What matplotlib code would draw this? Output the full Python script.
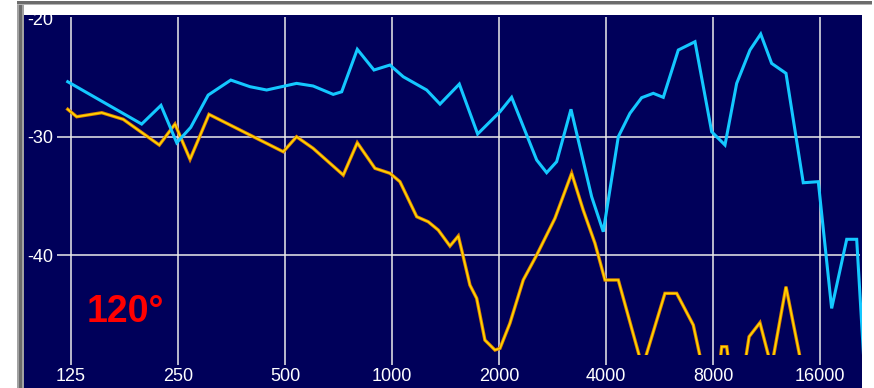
import matplotlib
matplotlib.use("Agg")
import matplotlib.pyplot as plt
from matplotlib.patches import Rectangle
from matplotlib.ticker import NullLocator

# ---- data -------------------------------------------------------------
x_ticks = [125, 250, 500, 1000, 2000, 4000, 8000, 16000]
x_tick_labels = ["125", "250", "500", "1000", "2000", "4000", "8000", "16000"]
y_ticks = [-20, -30, -40]
y_tick_labels = ["-20", "-30", "-40"]

cyan_freq = [122.4, 197.6, 223.9, 248, 271.5, 304, 352, 398.6, 444, 539,
             600, 683.5, 722, 798.8, 890, 987, 1076, 1252, 1365, 1547,
             1742, 2013, 2171, 2554, 2724, 2906, 3189, 3646, 3931, 4333,
             4673, 5041, 5435, 5799, 6391, 7121, 7934, 8648, 9329, 10169,
             10900, 11700, 12840, 14360, 15830, 17260, 19030, 20300, 21560]
cyan_db = [-25.35, -28.93, -27.35, -30.51, -29.21, -26.48, -25.21, -25.77, -26.05, -25.49,
           -25.71, -26.42, -26.20, -22.61, -24.36, -23.94, -24.93, -26.05, -27.24, -25.55,
           -29.77, -27.89, -26.67, -31.97, -33.04, -32.11, -27.68, -35.07, -38.03, -30.00,
           -28.02, -26.70, -26.33, -26.67, -22.67, -21.97, -29.58, -30.70, -25.49, -22.67,
           -21.32, -23.80, -24.64, -33.89, -33.80, -44.51, -38.67, -38.67, -52.00]

orange_freq = [122.4, 129.7, 152.6, 175.4, 221.5, 245.2, 270.3, 305.6, 494.5, 539,
               600, 729.5, 798.8, 895.7, 987, 1053, 1174, 1265, 1350, 1456,
               1537, 1587, 1657, 1731, 1826, 1949, 2013, 2147, 2341, 2554,
               2874, 3203, 3452, 3725, 3975, 4333, 5068, 5861, 6325, 7044,
               7595, 8105, 8467, 8745, 9290, 10112, 10846, 11690, 12840, 15490]
orange_db = [-27.68, -28.31, -27.97, -28.53, -30.70, -28.93, -31.91, -28.11, -31.27, -30.00,
             -30.98, -33.24, -30.51, -32.67, -33.09, -33.80, -36.76, -37.19, -37.89, -39.24,
             -38.39, -40.14, -42.54, -43.66, -47.19, -48.03, -47.89, -45.77, -42.11, -40.00,
             -36.90, -33.09, -36.20, -39.01, -42.11, -42.11, -49.50, -43.24, -43.24, -45.92,
             -50.50, -53.00, -47.75, -47.75, -54.00, -46.90, -45.72, -49.50, -42.68, -55.00]

angle_label = "120°"

# ---- style ------------------------------------------------------------
NAVY = "#00005a"
GRID = "#ececec"
CYAN = "#14c8ff"
ORANGE_EDGE = "#e08400"
ORANGE_CORE = "#ffd800"
FLOOR_DB = -48.45          # traces are not drawn below this level
XLIM = (92.2, 21010)
YLIM = (-51.24, -19.71)
YLABEL_X = 111.4           # right edge of the level labels (Hz position)

plt.rcParams["font.family"] = ["Liberation Sans Narrow", "Liberation Sans", "DejaVu Sans"]

W, H = 874, 388
fig = plt.figure(figsize=(W / 100, H / 100), dpi=100, facecolor="white")


def fx(px):
    return px / W


def fy(py):
    return 1 - py / H


def frame_rect(x0, y0, x1, y1, color):
    fig.add_artist(Rectangle((fx(x0), fy(y1)), fx(x1) - fx(x0), fy(y0) - fy(y1),
                             transform=fig.transFigure, facecolor=color,
                             edgecolor="none", zorder=0))


# window frame around the plot panel
frame_rect(17, 1, 24, 388, "#a2a2a2")
frame_rect(19, 1, 22, 388, "#6c6c6c")
frame_rect(17, 1, 872, 4, "#6c6c6c")
frame_rect(17, 4, 872, 5, "#b4b4b4")

ax = fig.add_axes([fx(24), 0, fx(862) - fx(24), fy(15)])
ax.set_facecolor(NAVY)
ax.set_xscale("log")
ax.set_xlim(*XLIM)
ax.set_ylim(*YLIM)
for s in ax.spines.values():
    s.set_visible(False)

# grid
ax.hlines([-30, -40], 114.2, 20740, color=GRID, lw=1.1, zorder=1)
ax.vlines(x_ticks, -49.3, -19.86, color=GRID, lw=1.1, zorder=1)

# frequency ticks drawn inside the panel
ax.set_xticks(x_ticks, x_tick_labels)
ax.xaxis.set_minor_locator(NullLocator())
ax.set_yticks([])
ax.tick_params(axis="x", which="both", length=0, colors="white", labelsize=13, pad=-14.4)

# level labels, clipped to the panel
for val, txt in zip(y_ticks, y_tick_labels):
    ax.text(YLABEL_X, val, txt, color="white", fontsize=13, ha="right",
            va="center_baseline", clip_on=True)

# traces, cut off at the floor level
floor_clip = Rectangle((XLIM[0], FLOOR_DB), XLIM[1] - XLIM[0], YLIM[1] - FLOOR_DB,
                       transform=ax.transData, facecolor="none", edgecolor="none")

cyan_line, = ax.plot(cyan_freq, cyan_db, color=CYAN, lw=2.2, zorder=3,
                     solid_joinstyle="miter")
orange_edge, = ax.plot(orange_freq, orange_db, color=ORANGE_EDGE, lw=2.4, zorder=2,
                       solid_joinstyle="miter")
orange_core, = ax.plot(orange_freq, orange_db, color=ORANGE_CORE, lw=1.1, zorder=2,
                       solid_joinstyle="miter")
for ln in (cyan_line, orange_edge, orange_core):
    ln.set_clip_path(floor_clip)

fig.text(fx(87), fy(321.7), angle_label, color="#ff0000", fontsize=27,
         fontweight="bold", family=["Liberation Sans", "DejaVu Sans"],
         ha="left", va="baseline")

fig.savefig("out.png", dpi=100, facecolor="white")
